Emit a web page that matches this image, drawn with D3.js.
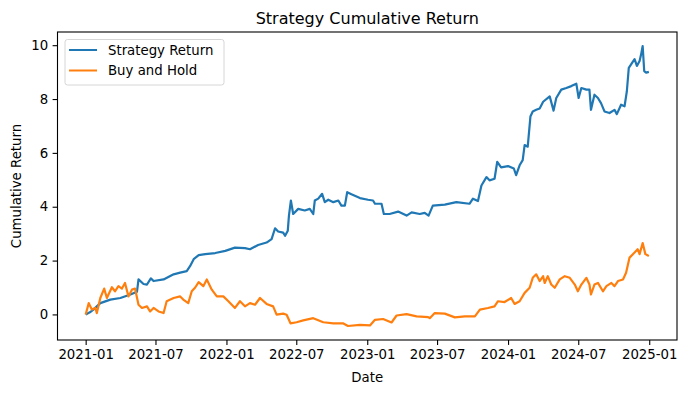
<!DOCTYPE html>
<html>
<head>
<meta charset="utf-8">
<script src="https://cdn.jsdelivr.net/npm/d3@7"></script>
<style>
  body { margin: 0; background: #fff; }
  text { font-family: "DejaVu Sans", sans-serif; fill: #000; }
</style>
</head>
<body>
<svg id="chart" width="687" height="393"></svg>
<script>
const stratDates = ["2021-01-01","2021-01-12","2021-01-21","2021-02-08","2021-03-06","2021-04-01","2021-04-27","2021-05-14","2021-05-18","2021-05-31",
  "2021-06-09","2021-06-19","2021-06-26","2021-07-22","2021-08-17","2021-09-03","2021-09-20","2021-09-29","2021-10-08","2021-10-21",
  "2021-11-07","2021-12-03","2021-12-29","2022-01-23","2022-02-18","2022-03-03","2022-03-24","2022-04-15","2022-04-28","2022-05-07",
  "2022-05-15","2022-05-28","2022-06-02","2022-06-09","2022-06-12","2022-06-17","2022-06-23","2022-07-06","2022-07-23","2022-08-05",
  "2022-08-14","2022-08-18","2022-08-27","2022-09-06","2022-09-13","2022-09-22","2022-10-05","2022-10-18","2022-10-26","2022-11-04",
  "2022-11-10","2022-11-21","2022-12-13","2023-01-03","2023-01-16","2023-01-21","2023-02-07","2023-02-13","2023-02-28","2023-03-22",
  "2023-04-13","2023-04-26","2023-05-17","2023-05-30","2023-06-09","2023-06-20","2023-07-21","2023-08-20","2023-09-23","2023-10-02",
  "2023-10-15","2023-10-24","2023-11-06","2023-11-14","2023-11-27","2023-12-04","2023-12-14","2024-01-01","2024-01-16","2024-01-22",
  "2024-01-31","2024-02-08","2024-02-13","2024-02-21","2024-02-28","2024-03-05","2024-03-14","2024-03-23","2024-04-01","2024-04-18",
  "2024-04-28","2024-05-05","2024-05-18","2024-05-31","2024-06-13","2024-06-26","2024-07-02","2024-07-09","2024-07-22","2024-07-30",
  "2024-08-03","2024-08-12","2024-08-21","2024-08-29","2024-09-07","2024-09-20","2024-10-03","2024-10-09","2024-10-20","2024-10-29",
  "2024-11-04","2024-11-09","2024-11-15","2024-11-24","2024-11-30","2024-12-07","2024-12-11","2024-12-15","2024-12-19","2024-12-24",
  "2024-12-31"];
const stratValues = [0.00,0.08,0.18,0.42,0.55,0.61,0.74,0.84,1.30,1.13,
  1.11,1.34,1.24,1.30,1.49,1.55,1.61,1.80,2.05,2.20,
  2.24,2.28,2.36,2.48,2.46,2.42,2.58,2.67,2.80,3.20,
  3.08,3.04,2.92,3.11,3.67,4.23,3.73,3.92,3.86,3.92,
  3.73,4.23,4.30,4.48,4.17,4.26,4.17,4.23,4.04,4.04,
  4.54,4.46,4.32,4.26,4.23,4.11,4.11,3.73,3.73,3.82,
  3.67,3.79,3.73,3.77,3.67,4.04,4.08,4.17,4.11,4.30,
  4.21,4.79,5.10,4.98,5.04,5.67,5.46,5.51,5.42,5.17,
  5.54,5.73,6.29,6.23,7.35,7.54,7.60,7.65,7.90,8.10,
  7.57,8.04,8.35,8.41,8.48,8.57,8.04,8.41,8.35,8.35,
  7.60,8.16,8.04,7.85,7.54,7.48,7.60,7.44,7.79,7.73,
  8.29,9.16,9.29,9.48,9.23,9.41,9.66,9.97,9.04,8.98,
  9.01];

const bhDates = ["2021-01-01","2021-01-09","2021-01-17","2021-01-26","2021-01-30","2021-02-08","2021-02-18","2021-02-25","2021-03-10","2021-03-18",
  "2021-03-27","2021-04-05","2021-04-13","2021-04-22","2021-05-01","2021-05-09","2021-05-18","2021-05-27","2021-06-09","2021-06-17",
  "2021-06-26","2021-07-09","2021-07-22","2021-07-30","2021-08-17","2021-09-03","2021-09-11","2021-09-24","2021-10-03","2021-10-12",
  "2021-10-21","2021-11-02","2021-11-11","2021-11-24","2021-12-07","2021-12-24","2022-01-06","2022-01-23","2022-02-05","2022-02-18",
  "2022-03-03","2022-03-16","2022-03-29","2022-04-15","2022-05-02","2022-05-11","2022-05-28","2022-06-06","2022-06-16","2022-07-02",
  "2022-07-19","2022-08-14","2022-09-09","2022-10-05","2022-10-30","2022-11-12","2022-12-13","2023-01-08","2023-01-21","2023-02-11",
  "2023-03-05","2023-03-18","2023-04-13","2023-05-09","2023-06-08","2023-06-12","2023-06-25","2023-07-21","2023-08-16","2023-09-11",
  "2023-10-07","2023-10-20","2023-11-10","2023-11-27","2023-12-06","2023-12-23","2024-01-09","2024-01-18","2024-01-31","2024-02-13",
  "2024-02-26","2024-03-05","2024-03-14","2024-03-23","2024-04-01","2024-04-05","2024-04-13","2024-04-22","2024-05-01","2024-05-14",
  "2024-05-27","2024-06-09","2024-06-22","2024-06-30","2024-07-09","2024-07-22","2024-07-30","2024-08-03","2024-08-12","2024-08-21",
  "2024-09-03","2024-09-12","2024-09-25","2024-10-03","2024-10-12","2024-10-25","2024-11-02","2024-11-11","2024-11-24","2024-12-02",
  "2024-12-07","2024-12-15","2024-12-22","2024-12-31"];
const bhValues = [0.00,0.42,0.18,0.24,0.05,0.61,0.96,0.61,1.01,0.86,
  1.05,0.96,1.17,0.67,0.92,0.96,0.36,0.24,0.30,0.11,
  0.24,0.11,0.05,0.49,0.61,0.67,0.55,0.42,0.86,1.00,
  1.20,1.05,1.30,0.92,0.67,0.67,0.49,0.24,0.49,0.30,
  0.42,0.36,0.61,0.39,0.30,-0.01,0.03,-0.01,-0.33,-0.29,
  -0.22,-0.14,-0.29,-0.33,-0.33,-0.43,-0.39,-0.41,-0.20,-0.17,
  -0.30,-0.04,0.01,-0.07,-0.10,-0.14,0.05,0.03,-0.11,-0.07,
  -0.07,0.18,0.24,0.30,0.49,0.46,0.61,0.39,0.49,0.80,
  0.99,1.36,1.49,1.24,1.42,1.17,1.42,1.11,0.99,1.30,
  1.42,1.36,1.11,0.86,1.11,1.36,1.11,0.74,1.11,1.17,
  0.86,1.05,1.17,1.05,1.24,1.30,1.55,2.11,2.30,2.42,
  2.24,2.65,2.24,2.17];

const yTicks = [0, 2, 4, 6, 8, 10];
const seriesNames = ["Strategy Return", "Buy and Hold"];
const seriesColors = ["#1f77b4", "#ff7f0e"];

const width = 687, height = 393;
const margin = {top: 32, right: 10, bottom: 53, left: 57.5};
const parse = d3.timeParse("%Y-%m-%d");

const series = [
  stratDates.map((d, i) => ({date: parse(d), value: stratValues[i]})),
  bhDates.map((d, i) => ({date: parse(d), value: bhValues[i]}))
];

// matplotlib style 5% padding on both axes
const allPts = series.flat();
const xExt = d3.extent(allPts, d => d.date);
const yExt = d3.extent(allPts, d => d.value);
const xPad = (xExt[1] - xExt[0]) * 0.05;
const yPad = (yExt[1] - yExt[0]) * 0.05;

const x = d3.scaleTime()
  .domain([new Date(+xExt[0] - xPad), new Date(+xExt[1] + xPad)])
  .range([margin.left, width - margin.right]);
const y = d3.scaleLinear()
  .domain([yExt[0] - yPad, yExt[1] + yPad])
  .range([height - margin.bottom, margin.top]);

const svg = d3.select("#chart");

const line = d3.line().x(d => x(d.date)).y(d => y(d.value));

svg.append("g")
  .selectAll("path")
  .data(series)
  .join("path")
  .attr("fill", "none")
  .attr("stroke", (d, i) => seriesColors[i])
  .attr("stroke-width", 2.2)
  .attr("stroke-linejoin", "round")
  .attr("d", line);

// axes
const xAxis = svg.append("g")
  .attr("transform", "translate(0," + (height - margin.bottom) + ")")
  .call(d3.axisBottom(x).ticks(d3.timeMonth.every(6)).tickFormat(d3.timeFormat("%Y-%m")).tickSizeOuter(0).tickSize(4.9).tickPadding(4.5));
const yAxis = svg.append("g")
  .attr("transform", "translate(" + margin.left + ",0)")
  .call(d3.axisLeft(y).tickValues(yTicks).tickFormat(d3.format("d")).tickSizeOuter(0).tickSize(4.9).tickPadding(4.5));

[xAxis, yAxis].forEach(g => {
  g.select(".domain").remove();
  g.selectAll("line").attr("stroke", "#000").attr("stroke-width", 1.1);
  g.selectAll("text").attr("font-size", "13.3px").attr("font-family", "DejaVu Sans").attr("fill", "#000");
});

svg.append("rect")
  .attr("x", margin.left)
  .attr("y", margin.top)
  .attr("width", width - margin.left - margin.right)
  .attr("height", height - margin.top - margin.bottom)
  .attr("fill", "none")
  .attr("stroke", "#000")
  .attr("stroke-width", 1.1);

// title and labels
svg.append("text")
  .attr("x", (margin.left + width - margin.right) / 2)
  .attr("y", 24)
  .attr("text-anchor", "middle")
  .attr("font-size", "16px")
  .text("Strategy Cumulative Return");

svg.append("text")
  .attr("x", (margin.left + width - margin.right) / 2)
  .attr("y", 382)
  .attr("text-anchor", "middle")
  .attr("font-size", "13.3px")
  .text("Date");

svg.append("text")
  .attr("transform", "translate(21," + ((margin.top + height - margin.bottom) / 2) + ") rotate(-90)")
  .attr("text-anchor", "middle")
  .attr("font-size", "13.3px")
  .text("Cumulative Return");

// legend
const legend = svg.append("g").attr("transform", "translate(65,39.5)");
legend.append("rect")
  .attr("width", 159)
  .attr("height", 45.5)
  .attr("rx", 2.5)
  .attr("fill", "#fff")
  .attr("fill-opacity", 0.8)
  .attr("stroke", "#d6d6d6")
  .attr("stroke-width", 1);
legend.selectAll("line")
  .data(seriesNames)
  .join("line")
  .attr("x1", 4).attr("x2", 32)
  .attr("y1", (d, i) => 10.5 + i * 20.5)
  .attr("y2", (d, i) => 10.5 + i * 20.5)
  .attr("stroke", (d, i) => seriesColors[i])
  .attr("stroke-width", 2);
legend.selectAll("text")
  .data(seriesNames)
  .join("text")
  .attr("x", 43)
  .attr("y", (d, i) => 15.2 + i * 20.5)
  .attr("font-size", "13.3px")
  .text(d => d);
</script>
</body>
</html>
